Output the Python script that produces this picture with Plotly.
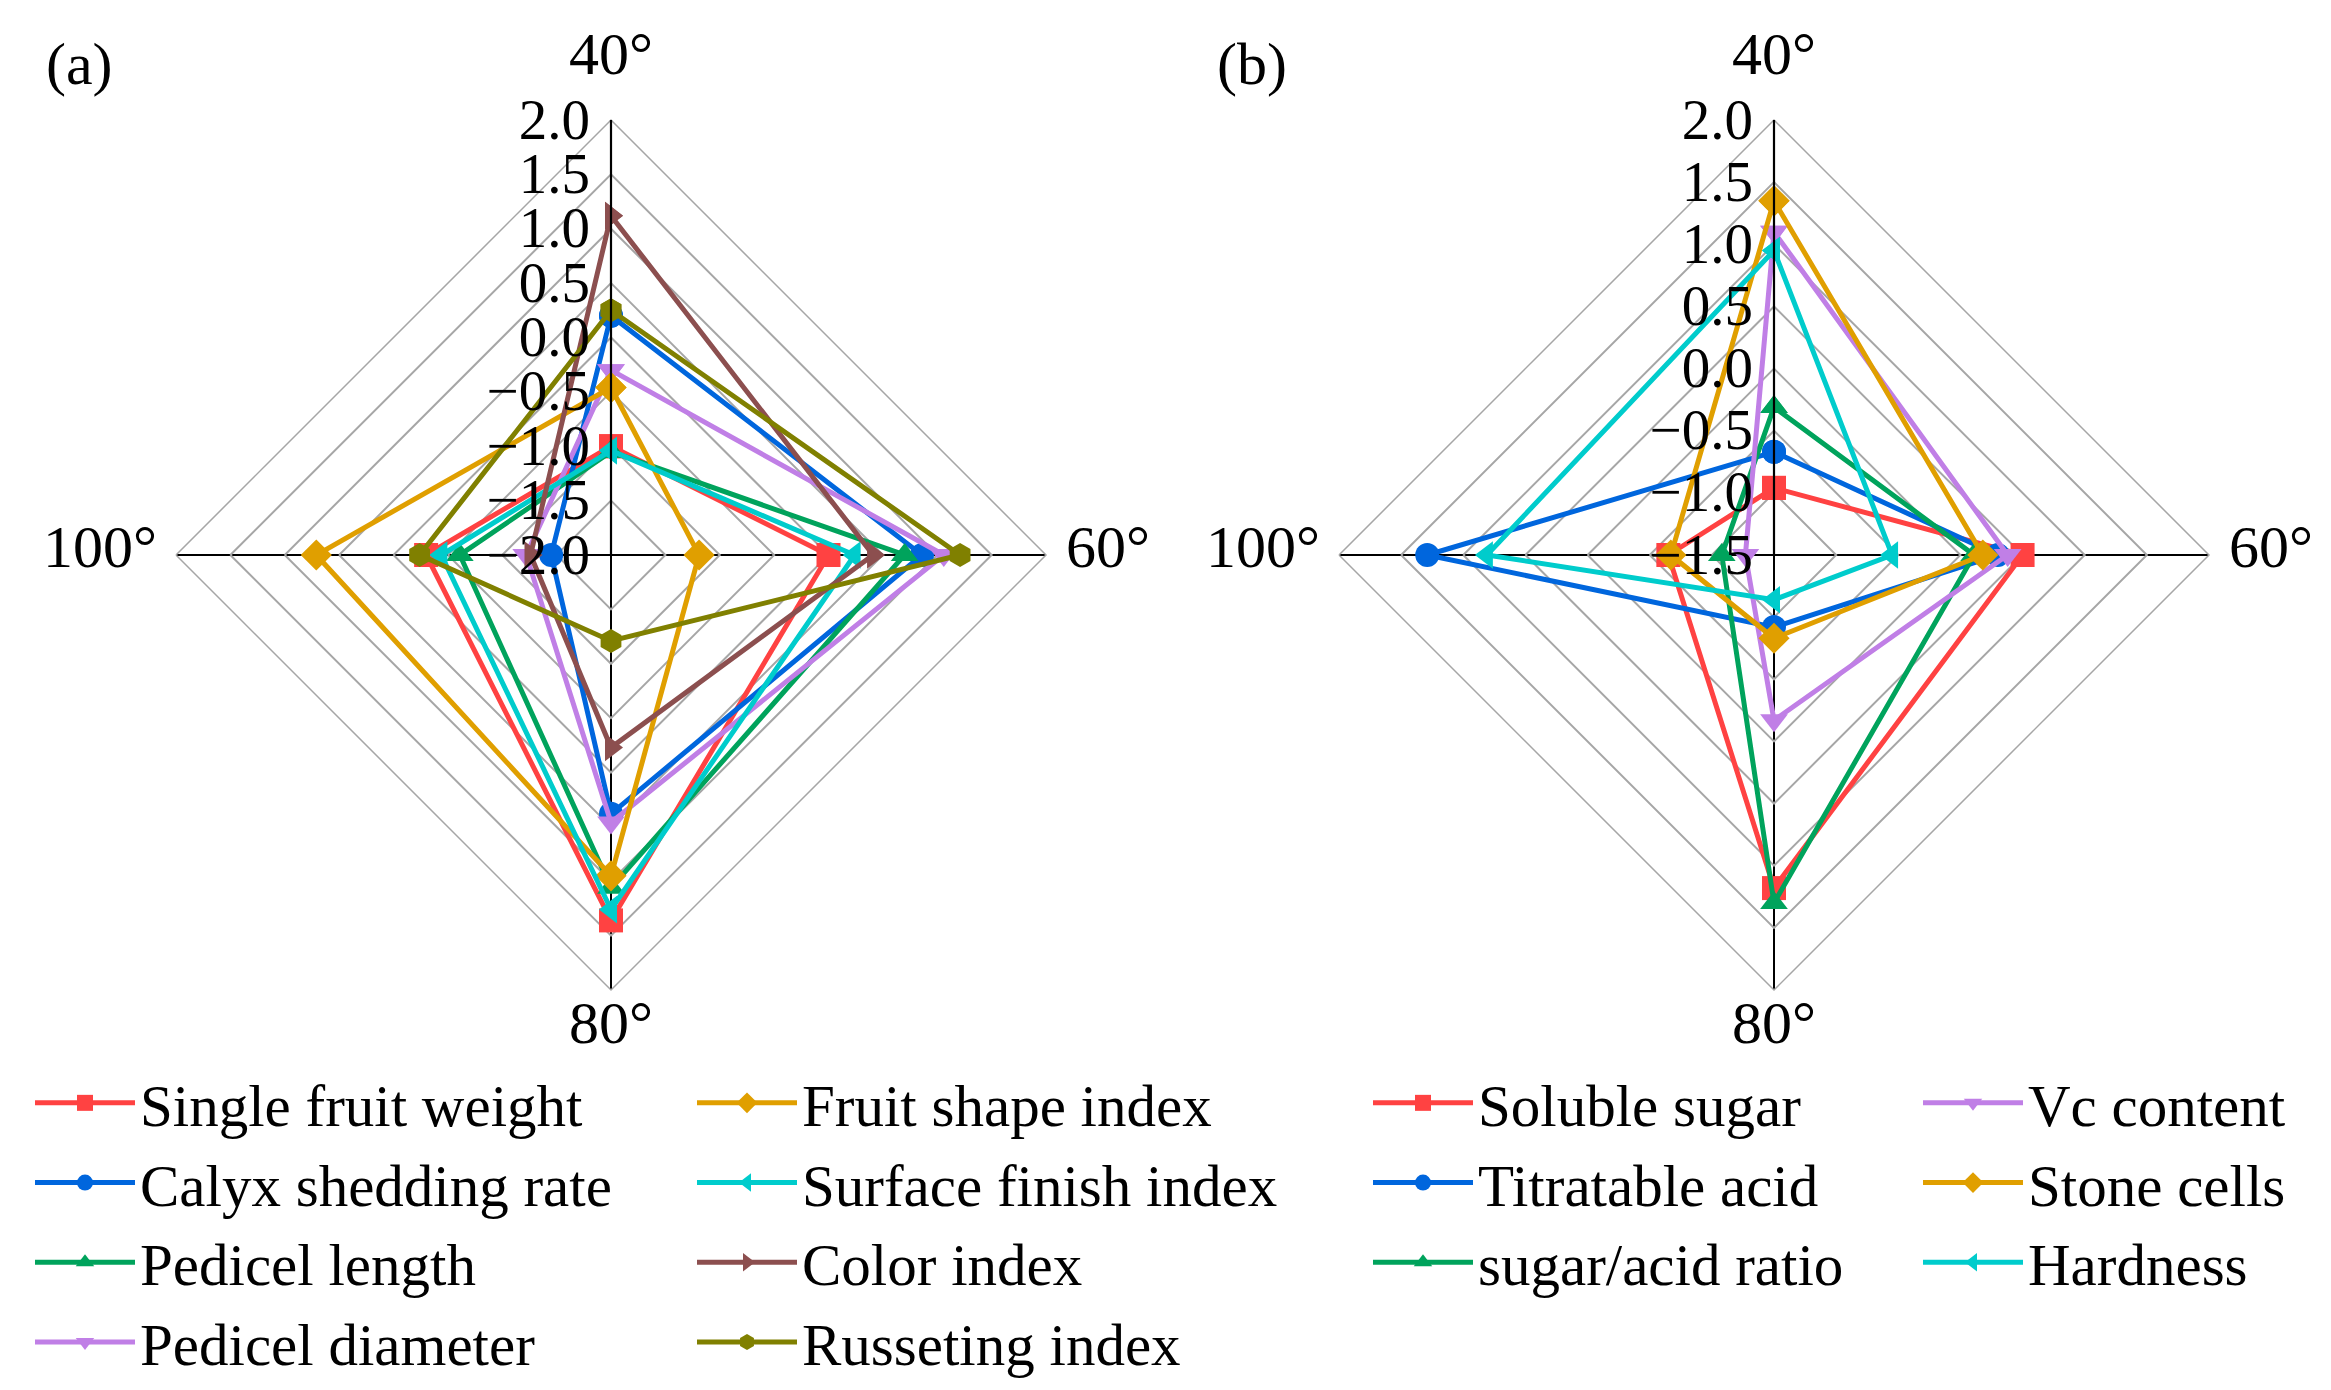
import plotly.graph_objects as go

# ---------------- data ----------------
angles = ["40°", "60°", "80°", "100°"]

# panel (a) : appearance traits, values at 40°, 60°, 80°, 100°
a_names = ["Single fruit weight", "Calyx shedding rate", "Pedicel length", "Pedicel diameter",
           "Fruit shape index", "Surface finish index", "Color index", "Russeting index"]
a_single_fruit_weight = [-1.00, 0.00, 1.36, -0.30]
a_calyx_shedding_rate = [0.20, 0.86, 0.38, -1.45]
a_pedicel_length = [-1.05, 0.70, 1.06, -0.61]
a_pedicel_diameter = [-0.30, 1.06, 0.46, -1.22]
a_fruit_shape_index = [-0.46, -1.19, 0.95, 0.71]
a_surface_finish_index = [-1.04, 0.24, 1.26, -0.44]
a_color_index = [1.12, 0.41, -0.23, -1.26]
a_russeting_index = [0.25, 1.21, -1.21, -0.24]
a_values = [a_single_fruit_weight, a_calyx_shedding_rate, a_pedicel_length, a_pedicel_diameter,
            a_fruit_shape_index, a_surface_finish_index, a_color_index, a_russeting_index]

# panel (b) : internal quality traits
b_names = ["Soluble sugar", "Titratable acid", "sugar/acid ratio",
           "Vc content", "Stone cells", "Hardness"]
b_soluble_sugar = [-0.96, 0.50, 1.18, -0.65]
b_titratable_acid = [-0.67, 0.30, -0.92, 1.29]
b_sugar_acid_ratio = [-0.31, 0.11, 1.30, -1.08]
b_vc_content = [1.10, 0.38, -0.17, -1.27]
b_stone_cells = [1.35, 0.18, -0.83, -0.67]
b_hardness = [0.95, -0.55, -1.14, 0.81]
b_values = [b_soluble_sugar, b_titratable_acid, b_sugar_acid_ratio,
            b_vc_content, b_stone_cells, b_hardness]

a_range = [-2.0, 2.0]
b_range = [-1.5, 2.0]
a_ticks = [2.0, 1.5, 1.0, 0.5, 0.0, -0.5, -1.0, -1.5, -2.0]
b_ticks = [2.0, 1.5, 1.0, 0.5, 0.0, -0.5, -1.0, -1.5]

# ---------------- styles ----------------
a_colors = ["#FF4242", "#0066DD", "#00A35C", "#C07FE6", "#E09F00", "#00CCCC", "#8C4F4F", "#808000"]
a_symbols = ["square", "circle", "triangle-up", "triangle-down", "diamond",
             "triangle-left", "triangle-right", "hexagon"]
b_colors = ["#FF4242", "#0066DD", "#00A35C", "#C07FE6", "#E09F00", "#00CCCC"]
b_symbols = ["square", "circle", "triangle-up", "triangle-down", "diamond", "triangle-left"]

FONT = "Liberation Serif"
W, H = 2331, 1390

fig = go.Figure()

# plotly hides points of a polygon-grid polar chart when the radial range is negative,
# so the radial axis is expressed as distance from the range minimum, labelled with the real values
def add_series(names, values, colors, symbols, subplot, legends, rng):
    half = (len(names) + 1) // 2
    for i, (n, v, c, s) in enumerate(zip(names, values, colors, symbols)):
        closed = v + [v[0]]
        fig.add_trace(go.Scatterpolar(
            r=[x - rng[0] for x in closed], theta=angles + [angles[0]],
            customdata=closed, hovertemplate="%{theta}: %{customdata:.2f}<extra>" + n + "</extra>",
            mode="lines+markers", name=n, subplot=subplot,
            legend=legends[0] if i < half else legends[1],
            line=dict(color=c, width=5),
            marker=dict(symbol=s, size=24, color=c),
        ))

add_series(a_names, a_values, a_colors, a_symbols, "polar", ["legend", "legend2"], a_range)
add_series(b_names, b_values, b_colors, b_symbols, "polar2", ["legend3", "legend4"], b_range)

Y_DOM = [408, 1278]

def polar_layout(xdom, rng, ticks):
    return dict(
        domain=dict(x=xdom, y=[Y_DOM[0] / H, Y_DOM[1] / H]),
        gridshape="linear",
        bgcolor="white",
        angularaxis=dict(
            rotation=90, direction="clockwise", categoryorder="array", categoryarray=angles,
            showline=True, linecolor="#A6A6A6", linewidth=1.5,
            showgrid=True, gridcolor="black", gridwidth=2.2,
            ticks="", showticklabels=False,
        ),
        radialaxis=dict(
            range=[0, rng[1] - rng[0]], angle=90, tickangle=90, side="counterclockwise",
            tickvals=[t - rng[0] for t in ticks],
            ticktext=[f"{t:.1f}".replace("-", "\u2212") for t in ticks],
            showline=True, linecolor="black", linewidth=2.2,
            showgrid=True, gridcolor="#A6A6A6", gridwidth=1.5,
            ticks="", tickfont=dict(family=FONT, size=57, color="black"),
        ),
    )

a_dom = [168 / W, 1038 / W]
b_dom = [1331 / W, 2201 / W]

legend_common = dict(
    orientation="v", xanchor="left", yanchor="top", bgcolor="rgba(0,0,0,0)",
    font=dict(family=FONT, size=59, color="black"), tracegroupgap=0,
    itemwidth=100, itemsizing="trace",
)
ytop = (H - 1050) / H

annotations = [
    dict(text="(a)", x=71 / W, y=(H - 56) / H),
    dict(text="(b)", x=1244 / W, y=(H - 56) / H),
]
# angular category labels placed just outside each polygon vertex (offsets in px, y up)
label_offsets = {"40°": (0, 501), "60°": (497, 8), "80°": (0, -468), "100°": (-511, 8)}
cy = (Y_DOM[0] + Y_DOM[1]) / 2
for dom in (a_dom, b_dom):
    cx = (dom[0] + dom[1]) / 2 * W
    for ang in angles:
        dx, dy = label_offsets[ang]
        annotations.append(dict(text=ang, x=(cx + dx) / W, y=(cy + dy) / H))
for an in annotations:
    an.update(xref="paper", yref="paper", xanchor="center", yanchor="middle",
              showarrow=False, font=dict(family=FONT, size=60, color="black"))

fig.update_layout(
    width=W, height=H,
    margin=dict(l=0, r=0, t=0, b=0, autoexpand=False),
    paper_bgcolor="white", plot_bgcolor="white",
    showlegend=True,
    polar=polar_layout(a_dom, a_range, a_ticks),
    polar2=polar_layout(b_dom, b_range, b_ticks),
    legend=dict(x=22 / W, y=ytop, **legend_common),
    legend2=dict(x=684 / W, y=ytop, **legend_common),
    legend3=dict(x=1360 / W, y=ytop, **legend_common),
    legend4=dict(x=1910 / W, y=ytop, **legend_common),
    annotations=annotations,
)

fig.write_html("out.html")
